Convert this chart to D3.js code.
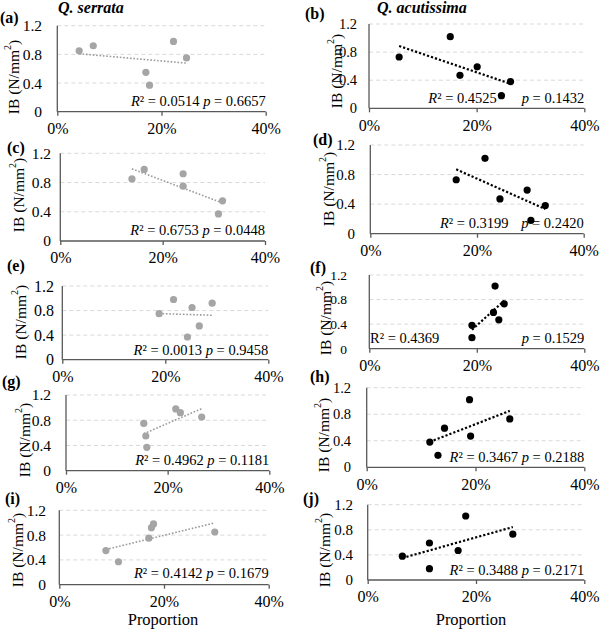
<!DOCTYPE html>
<html><head><meta charset="utf-8">
<script src="https://cdn.jsdelivr.net/npm/d3@7"></script>
<style>body{margin:0;background:#fff} svg{display:block} text{font-family:"Liberation Serif","Times New Roman",serif;fill:#000}</style>
</head><body><svg id="c" width="600" height="631"></svg>
<script>
// ---- data ----
const serrataIB    = [0.85, 0.92, 0.98, 0.75, 0.55, 0.37];
const acutissimaIB = [0.73, 1.02, 0.47, 0.59, 0.18, 0.38];
const proportionA = [4.2, 6.9, 22.3, 24.8, 17.0, 17.7];
const proportionB = [5.6, 15.1, 16.9, 20.1, 24.6, 26.3];
const proportionC = [14.0, 24.0, 16.4, 24.0, 31.7, 30.9];
const proportionD = [16.1, 21.5, 24.3, 29.4, 30.1, 32.8];
const proportionE = [25.2, 29.1, 21.6, 18.8, 26.6, 24.3];
const proportionF = [25.1, 23.4, 24.1, 23.1, 19.1, 19.1];
const proportionG = [26.7, 22.5, 21.6, 15.3, 15.7, 15.9];
const proportionH = [26.3, 18.9, 19.1, 14.3, 13.1, 11.6];
const proportionI = [29.7, 17.6, 18.0, 17.1, 8.9, 11.3];
const proportionJ = [26.8, 18.1, 16.7, 11.4, 11.4, 6.4];
const panelKeys = ["a","b","c","d","e","f","g","h","i","j"];
const panelSpecies = ["s","a","s","a","s","a","s","a","s","a"];
const panelX = [proportionA, proportionB, proportionC, proportionD, proportionE, proportionF, proportionG, proportionH, proportionI, proportionJ];
const r2Values = ["0.0514","0.4525","0.6753","0.3199","0.0013","0.4369","0.4962","0.3467","0.4142","0.3488"];
const pValues  = ["0.6657","0.1432","0.0448","0.2420","0.9458","0.1529","0.1181","0.2188","0.1679","0.2171"];
const xTicks = [0, 20, 40];
const yTicks = [0, 0.4, 0.8, 1.2];
const yTickLabels = ["0", "0.4", "0.8", "1.2"];
const speciesTitles = ["Q. serrata", "Q. acutissima"];
const xTitle = "Proportion";

// ---- layout ----
const layout = {
 a:{x0:57.3,x1:265.7,yb:111.7,yt:25.7,tickR:42,labX:13,labY:77,letX:0,letY:23,statY:106,yfs:15.5},
 b:{x0:369,x1:584.3,yb:108.3,yt:24,tickR:357,labX:336,labY:71,letX:305,letY:19,statY:103.3,r2X:428.3,yfs:14.5},
 c:{x0:60.3,x1:265,yb:241,yt:153.3,tickR:51,labX:18,labY:195,letX:7,letY:153,statY:235,yfs:15.5},
 d:{x0:370.3,x1:583.7,yb:233.7,yt:145,tickR:355,labX:328,labY:189,letX:313,letY:145,statY:228.3,r2X:440,yfs:15},
 e:{x0:62.3,x1:268.3,yb:359.7,yt:286,tickR:54,labX:20,labY:322,letX:7,letY:271,statY:355,yfs:16},
 f:{x0:369.3,x1:584.3,yb:348.7,yt:275,tickR:347,labX:325,labY:318,letX:310,letY:273,statY:343.3,r2X:370,rPlain:true,yfs:13.5},
 g:{x0:66,x1:269.3,yb:470.7,yt:395,tickR:51,labX:24,labY:440,letX:2,letY:387,statY:465,yfs:15.5},
 h:{x0:366.7,x1:584.3,yb:467.3,yt:387.7,tickR:351,labX:323,labY:435,letX:310,letY:382,statY:461.7,yfs:14.5},
 i:{x0:59.3,x1:268.7,yb:584.7,yt:510.3,tickR:46,labX:17,labY:550,letX:5,letY:504,statY:578.3,yfs:15.5},
 j:{x0:367.7,x1:584.3,yb:580,yt:504.7,tickR:353,labX:324,labY:550,letX:303,letY:504,statY:575,yfs:15}
};
const style = {
 s:{marker:"#a5a5a5", trend:"#9a9a9a", trendW:1.6, dash:"1.6,1.8"},
 a:{marker:"#000", trend:"#000", trendW:2.2, dash:"2.2,2"}
};

const svg = d3.select("#c");

function linReg(xs, ys){
  const mx = d3.mean(xs), my = d3.mean(ys);
  let sxy=0, sxx=0;
  xs.forEach((x,i)=>{ sxy += (x-mx)*(ys[i]-my); sxx += (x-mx)*(x-mx); });
  const b = sxy/sxx; return {b, a: my - b*mx};
}

panelKeys.forEach((k, idx) => {
  const L = layout[k];
  const sp = panelSpecies[idx];
  const ys = sp === "s" ? serrataIB : acutissimaIB;
  const xs = panelX[idx];
  const st = style[sp];
  const x = d3.scaleLinear().domain([0, 40]).range([L.x0, L.x1]);
  const y = d3.scaleLinear().domain([0, 1.2]).range([L.yb, L.yt]);
  const g = svg.append("g");

  // gridlines
  g.selectAll(".grid").data(yTicks.filter(t => t > 0)).join("line")
    .attr("x1", L.x0).attr("x2", L.x1)
    .attr("y1", d => y(d)).attr("y2", d => y(d))
    .attr("stroke", "#d9d9d9").attr("stroke-width", 1).attr("stroke-dasharray", "4,3");

  // x axis
  const xAxis = d3.axisBottom(x).tickValues(xTicks).tickFormat(d => d + "%").tickSize(4).tickPadding(7);
  const xa = g.append("g").attr("transform", `translate(0,${L.yb})`).call(xAxis);
  xa.select(".domain").attr("stroke", "#595959").attr("stroke-width", 1.3).attr("d", `M${L.x0},0H${L.x1}`);
  xa.selectAll(".tick line").attr("stroke", "#595959").attr("stroke-width", 1.3);
  xa.selectAll(".tick text").attr("font-size", 16).attr("fill", "#000");

  // y axis
  const yAxis = d3.axisLeft(y).tickValues(yTicks).tickFormat((d, i) => yTickLabels[i]).tickSize(0).tickPadding(L.x0 - L.tickR);
  const ya = g.append("g").attr("transform", `translate(${L.x0},0)`).call(yAxis);
  ya.select(".domain").attr("stroke", "#595959").attr("stroke-width", 1.3).attr("d", `M0,${L.yt}V${L.yb}`);
  ya.selectAll(".tick text").attr("font-size", L.yfs).attr("fill", "#000");

  // trendline (least squares, spanning data range)
  const r = linReg(xs, ys);
  const [mn, mx] = d3.extent(xs);
  g.append("line")
    .attr("x1", x(mn)).attr("y1", y(r.a + r.b*mn))
    .attr("x2", x(mx)).attr("y2", y(r.a + r.b*mx))
    .attr("stroke", st.trend).attr("stroke-width", st.trendW).attr("stroke-dasharray", st.dash);

  // points
  g.selectAll(".pt").data(xs.map((v, i) => [v, ys[i]])).join("circle")
    .attr("cx", d => x(d[0])).attr("cy", d => y(d[1])).attr("r", 3.6)
    .attr("fill", st.marker);

  // y label
  const yl = g.append("text").attr("transform", `translate(${L.labX},${L.labY}) rotate(-90)`)
    .attr("text-anchor", "middle").attr("dominant-baseline", "central").attr("font-size", 15.5);
  yl.append("tspan").text("IB (N/mm");
  yl.append("tspan").text("2").attr("font-size", 10).attr("dy", -6);
  yl.append("tspan").text(")").attr("dy", 6);

  // panel letter
  g.append("text").attr("x", L.letX).attr("y", L.letY).attr("font-size", 16).attr("font-weight", "bold").text(`(${k})`);

  // stats
  const fs = 14.5;
  if (L.r2X !== undefined) {
    const t1 = g.append("text").attr("x", L.r2X).attr("y", L.statY).attr("font-size", fs);
    t1.append("tspan").text("R").attr("font-style", L.rPlain ? "normal" : "italic");
    t1.append("tspan").text("² = " + r2Values[idx]);
    const t2 = g.append("text").attr("x", L.x1).attr("y", L.statY).attr("font-size", fs).attr("text-anchor", "end");
    t2.append("tspan").text("p").attr("font-style", "italic");
    t2.append("tspan").text(" = " + pValues[idx]);
  } else {
    const t = g.append("text").attr("x", L.x1).attr("y", L.statY).attr("font-size", fs).attr("text-anchor", "end");
    t.append("tspan").text("R").attr("font-style", "italic");
    t.append("tspan").text("² = " + r2Values[idx] + " ");
    t.append("tspan").text("p").attr("font-style", "italic");
    t.append("tspan").text(" = " + pValues[idx]);
  }
});

// species titles
svg.append("text").attr("x", 58).attr("y", 12.5).attr("font-size", 16).attr("font-weight", "bold").attr("font-style", "italic").text(speciesTitles[0]);
svg.append("text").attr("x", 377).attr("y", 13).attr("font-size", 16).attr("font-weight", "bold").attr("font-style", "italic").text(speciesTitles[1]);

// x titles
svg.append("text").attr("x", 163).attr("y", 625).attr("text-anchor", "middle").attr("font-size", 16.5).text(xTitle);
svg.append("text").attr("x", 471).attr("y", 625).attr("text-anchor", "middle").attr("font-size", 16.5).text(xTitle);
</script></body></html>
